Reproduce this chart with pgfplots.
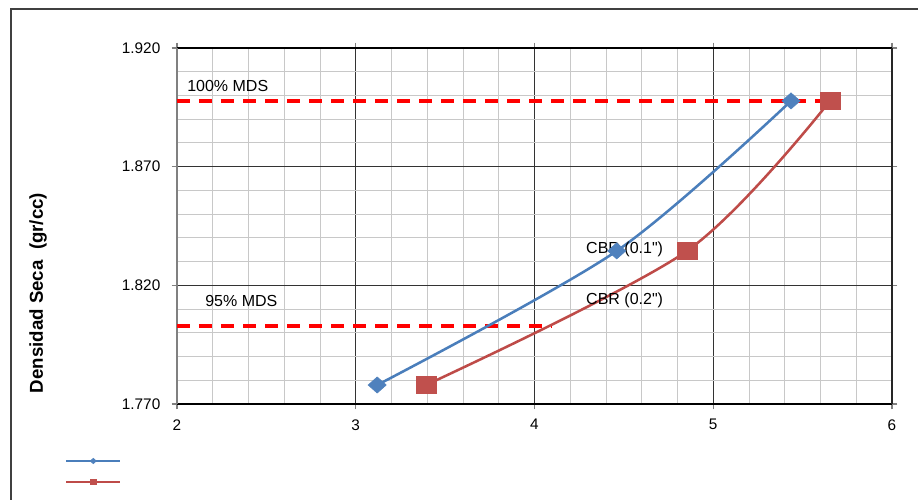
\documentclass[border=0pt]{standalone}
\usepackage{pgfplots}
\pgfplotsset{compat=1.18}
\usepackage{fontspec}
\setmainfont{Liberation Sans}
\newfontfamily\nomap{Liberation Sans}
\definecolor{cblue}{RGB}{74,126,187}
\definecolor{cbluem}{RGB}{79,129,189}
\definecolor{cred}{RGB}{190,75,72}
\definecolor{credm}{RGB}{192,80,77}
\definecolor{mingrid}{RGB}{200,200,200}
\begin{document}
\begin{tikzpicture}
\useasboundingbox (0,0) rectangle (688.5pt,375pt);
\draw[black!75, line width=0.8pt] (8.25pt,-2pt) -- (8.25pt,368.25pt) -- (692pt,368.25pt);
\begin{axis}[
  at={(132.75pt,72pt)}, anchor=south west,
  scale only axis, width=536.25pt, height=267pt,
  xmin=2, xmax=6, ymin=1.77, ymax=1.92,
  xtick={2,3,4,5,6}, ytick={1.77,1.82,1.87,1.92},
  minor x tick num=4, minor y tick num=4,
  grid=both,
  major grid style={black!80, line width=0.6pt},
  minor grid style={mingrid, line width=0.75pt},
  tick align=outside,
  major tick length=4pt, minor tick length=0pt,
  tick style={gray, line width=0.8pt},
  separate axis lines,
  x axis line style={black, line width=0.8pt},
  y axis line style={gray, line width=1.1pt},
  ticklabel style={font=\fontsize{11.5}{13}\selectfont},
  /pgf/number format/assume math mode=true,
  yticklabel style={/pgf/number format/fixed, /pgf/number format/fixed zerofill, /pgf/number format/precision=3, xshift=-5pt},
  xticklabel style={yshift=-4pt},
  ylabel={Densidad Seca\ \ (gr/cc)},
  ylabel style={font=\fontsize{14}{16}\selectfont\bfseries, at={(axis description cs:-0.1944,0.3118)}, anchor=center},
  clip=false,
  legend style={at={(axis description cs:-0.1566,-0.1306)}, anchor=north west, draw=none, fill=none, inner sep=0pt, outer sep=0pt, row sep=0pt, nodes={inner sep=0pt, minimum height=15.75pt}},
  legend image code/.code={\draw[mark repeat=2, mark phase=2, #1, mark size=2pt] plot coordinates {(0pt,0pt) (20.25pt,0pt) (40.5pt,0pt)};},
]
\addplot[red, line width=2.4pt, dash pattern=on 10pt off 6.5pt, forget plot] coordinates {(2,1.8977) (5.653,1.8977)};
\addplot[red, line width=2.4pt, dash pattern=on 10pt off 6.5pt, forget plot] coordinates {(2,1.8029) (4.10,1.8029)};
\addplot[cblue, line width=1.9pt, smooth, mark=diamond*, mark size=6pt, mark options={fill=cbluem, draw=cbluem, line width=0.5pt, xscale=1.5}] coordinates {(3.12,1.778) (4.46,1.8345) (5.435,1.8977)};
\addlegendentry{}
\addplot[cred, line width=1.9pt, smooth, mark=square*, mark size=6.2pt, mark options={fill=credm, draw=credm, line width=0.5pt, xscale=1.2, rounded corners=1pt}] coordinates {(3.393,1.778) (4.853,1.8345) (5.653,1.8977)};
\addlegendentry{}
\draw[black!85, line width=1.5pt] (rel axis cs:1,0) -- (rel axis cs:1,1);
\node[anchor=base west, inner sep=0pt, font=\fontsize{12}{14}\selectfont] at (axis cs:2.056,1.9015) {100\% MDS};
\node[anchor=base west, inner sep=0pt, font=\fontsize{12}{14}\selectfont] at (axis cs:2.157,1.8109) {95\% MDS};
\node[anchor=base west, inner sep=0pt, font=\fontsize{12}{14}\selectfont] at (axis cs:4.288,1.8335) {CBR (0.1{\nomap"})};
\node[anchor=base west, inner sep=0pt, font=\fontsize{12}{14}\selectfont] at (axis cs:4.288,1.8121) {CBR (0.2{\nomap"})};
\end{axis}
\end{tikzpicture}
\end{document}
